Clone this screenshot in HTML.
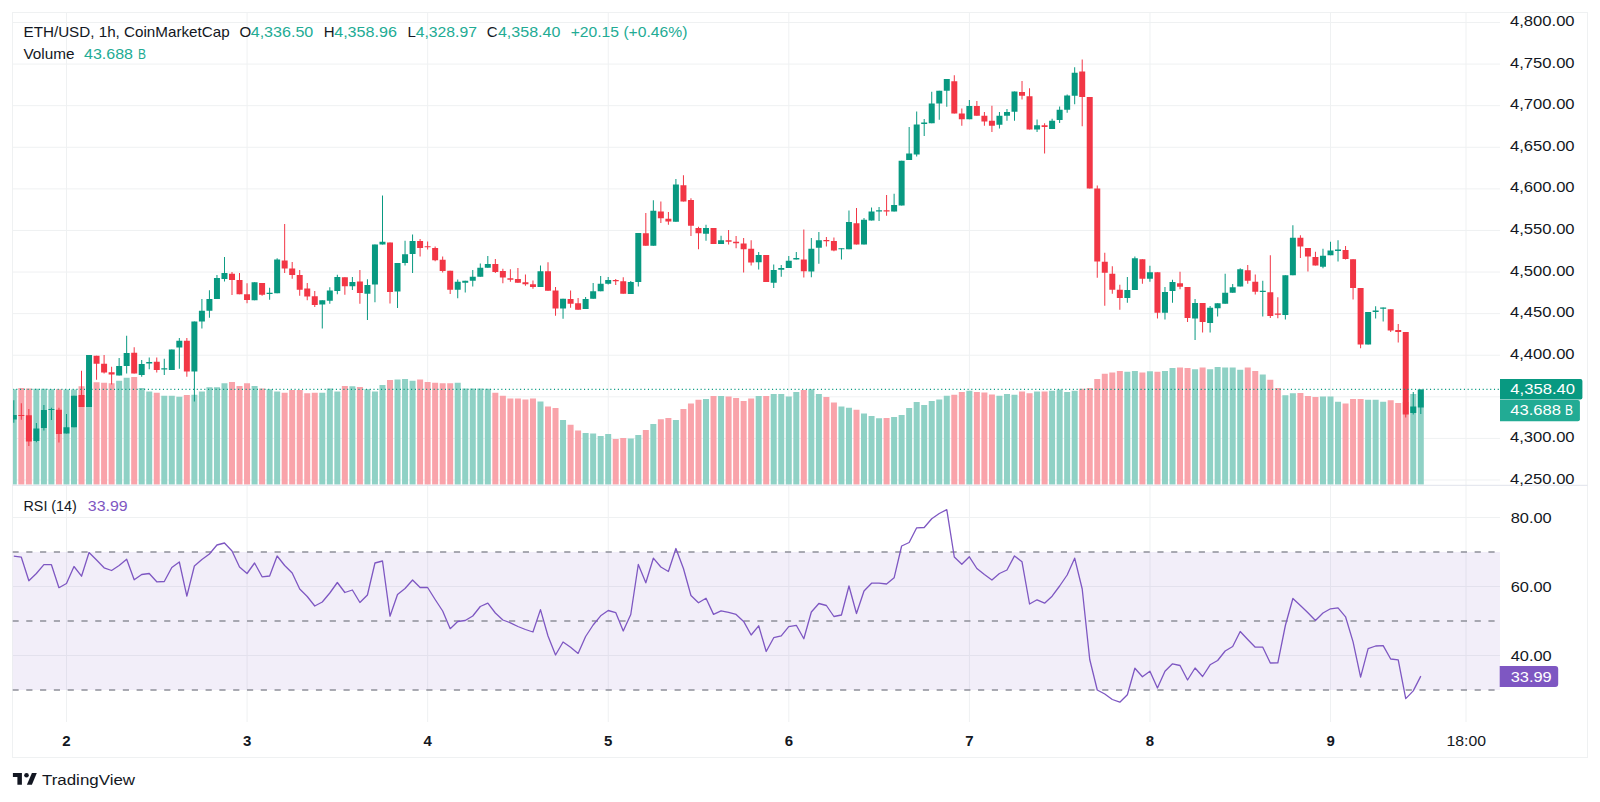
<!DOCTYPE html><html><head><meta charset="utf-8"><style>html,body{margin:0;padding:0;background:#fff;}svg{display:block;}</style></head><body>
<svg width="1600" height="802" viewBox="0 0 1600 802" font-family='"Liberation Sans", sans-serif'>
<rect width="1600" height="802" fill="#ffffff"/>
<defs><clipPath id="cp1"><rect x="12.5" y="12.5" width="1487.5" height="472.5"/></clipPath><clipPath id="cp2"><rect x="12.5" y="485.5" width="1487.5" height="236.5"/></clipPath></defs>
<path d="M12.5 479.99H1500M12.5 438.40H1500M12.5 396.81H1500M12.5 355.22H1500M12.5 313.63H1500M12.5 272.04H1500M12.5 230.45H1500M12.5 188.86H1500M12.5 147.27H1500M12.5 105.68H1500M12.5 64.09H1500M12.5 22.50H1500M12.5 517.50H1500M12.5 586.50H1500M12.5 655.50H1500M66.50 12.5V485M66.50 485.5V722M247.08 12.5V485M247.08 485.5V722M427.66 12.5V485M427.66 485.5V722M608.24 12.5V485M608.24 485.5V722M788.82 12.5V485M788.82 485.5V722M969.40 12.5V485M969.40 485.5V722M1149.98 12.5V485M1149.98 485.5V722M1330.56 12.5V485M1330.56 485.5V722M1466.00 12.5V485M1466.00 485.5V722" stroke="#eff1f2" stroke-width="1" fill="none"/>
<g clip-path="url(#cp1)">
<path d="M10.80 389.20H16.80V484.5H10.80ZM33.37 388.80H39.37V484.5H33.37ZM40.90 388.80H46.90V484.5H40.90ZM48.42 389.20H54.42V484.5H48.42ZM63.47 389.50H69.47V484.5H63.47ZM70.99 389.50H76.99V484.5H70.99ZM86.04 384.00H92.04V484.5H86.04ZM116.14 380.70H122.14V484.5H116.14ZM123.66 377.80H129.66V484.5H123.66ZM138.71 388.00H144.71V484.5H138.71ZM146.23 391.60H152.23V484.5H146.23ZM161.28 395.70H167.28V484.5H161.28ZM168.80 395.80H174.80V484.5H168.80ZM176.33 396.80H182.33V484.5H176.33ZM191.38 394.70H197.38V484.5H191.38ZM198.90 391.60H204.90V484.5H198.90ZM206.42 387.20H212.42V484.5H206.42ZM213.95 387.20H219.95V484.5H213.95ZM221.47 383.20H227.47V484.5H221.47ZM251.57 385.90H257.57V484.5H251.57ZM266.62 389.20H272.62V484.5H266.62ZM274.14 391.60H280.14V484.5H274.14ZM319.28 392.70H325.28V484.5H319.28ZM326.81 388.40H332.81V484.5H326.81ZM334.33 391.60H340.33V484.5H334.33ZM349.38 386.30H355.38V484.5H349.38ZM364.43 389.20H370.43V484.5H364.43ZM371.95 391.60H377.95V484.5H371.95ZM379.48 385.10H385.48V484.5H379.48ZM394.52 379.40H400.52V484.5H394.52ZM402.05 379.10H408.05V484.5H402.05ZM409.57 380.70H415.57V484.5H409.57ZM454.72 382.70H460.72V484.5H454.72ZM462.24 388.40H468.24V484.5H462.24ZM469.76 388.40H475.76V484.5H469.76ZM477.29 388.40H483.29V484.5H477.29ZM484.81 388.80H490.81V484.5H484.81ZM537.48 401.50H543.48V484.5H537.48ZM560.05 420.00H566.05V484.5H560.05ZM582.62 432.90H588.62V484.5H582.62ZM590.15 433.40H596.15V484.5H590.15ZM597.67 436.00H603.67V484.5H597.67ZM605.20 434.10H611.20V484.5H605.20ZM627.77 438.60H633.77V484.5H627.77ZM635.29 434.90H641.29V484.5H635.29ZM650.34 424.00H656.34V484.5H650.34ZM672.91 420.00H678.91V484.5H672.91ZM703.01 398.90H709.01V484.5H703.01ZM718.06 396.00H724.06V484.5H718.06ZM755.68 396.00H761.68V484.5H755.68ZM770.72 394.00H776.72V484.5H770.72ZM778.25 394.00H784.25V484.5H778.25ZM785.77 396.50H791.77V484.5H785.77ZM793.30 392.10H799.30V484.5H793.30ZM808.34 389.20H814.34V484.5H808.34ZM815.87 394.00H821.87V484.5H815.87ZM838.44 406.50H844.44V484.5H838.44ZM845.96 407.80H851.96V484.5H845.96ZM861.01 413.50H867.01V484.5H861.01ZM868.54 415.90H874.54V484.5H868.54ZM876.06 418.30H882.06V484.5H876.06ZM891.11 417.00H897.11V484.5H891.11ZM898.63 415.10H904.63V484.5H898.63ZM906.16 408.10H912.16V484.5H906.16ZM913.68 402.10H919.68V484.5H913.68ZM921.20 404.90H927.20V484.5H921.20ZM928.73 401.00H934.73V484.5H928.73ZM936.25 399.40H942.25V484.5H936.25ZM943.78 395.70H949.78V484.5H943.78ZM966.35 390.80H972.35V484.5H966.35ZM996.44 395.80H1002.44V484.5H996.44ZM1003.97 394.00H1009.97V484.5H1003.97ZM1011.49 394.80H1017.49V484.5H1011.49ZM1034.06 391.60H1040.06V484.5H1034.06ZM1049.11 390.80H1055.11V484.5H1049.11ZM1056.64 389.50H1062.64V484.5H1056.64ZM1064.16 392.10H1070.16V484.5H1064.16ZM1071.68 390.80H1077.68V484.5H1071.68ZM1124.35 371.80H1130.35V484.5H1124.35ZM1131.88 370.90H1137.88V484.5H1131.88ZM1146.92 371.30H1152.92V484.5H1146.92ZM1161.97 370.90H1167.97V484.5H1161.97ZM1169.50 368.10H1175.50V484.5H1169.50ZM1192.07 369.20H1198.07V484.5H1192.07ZM1207.12 369.20H1213.12V484.5H1207.12ZM1214.64 367.00H1220.64V484.5H1214.64ZM1222.16 367.60H1228.16V484.5H1222.16ZM1229.69 367.60H1235.69V484.5H1229.69ZM1237.21 369.70H1243.21V484.5H1237.21ZM1259.78 374.60H1265.78V484.5H1259.78ZM1282.36 395.20H1288.36V484.5H1282.36ZM1289.88 393.20H1295.88V484.5H1289.88ZM1319.98 396.50H1325.98V484.5H1319.98ZM1327.50 396.50H1333.50V484.5H1327.50ZM1335.02 401.70H1341.02V484.5H1335.02ZM1365.12 399.70H1371.12V484.5H1365.12ZM1372.64 399.70H1378.64V484.5H1372.64ZM1380.17 401.70H1386.17V484.5H1380.17ZM1410.26 394.10H1416.26V484.5H1410.26ZM1417.79 390.00H1423.79V484.5H1417.79Z" fill="#8fd1c5"/>
<path d="M18.32 388.00H24.32V484.5H18.32ZM25.85 388.40H31.85V484.5H25.85ZM55.94 389.20H61.94V484.5H55.94ZM78.52 386.30H84.52V484.5H78.52ZM93.56 382.20H99.56V484.5H93.56ZM101.09 382.70H107.09V484.5H101.09ZM108.61 383.20H114.61V484.5H108.61ZM131.18 377.00H137.18V484.5H131.18ZM153.76 392.70H159.76V484.5H153.76ZM183.85 395.00H189.85V484.5H183.85ZM229.00 382.00H235.00V484.5H229.00ZM236.52 385.90H242.52V484.5H236.52ZM244.04 383.20H250.04V484.5H244.04ZM259.09 388.40H265.09V484.5H259.09ZM281.66 392.70H287.66V484.5H281.66ZM289.19 390.00H295.19V484.5H289.19ZM296.71 390.00H302.71V484.5H296.71ZM304.24 393.20H310.24V484.5H304.24ZM311.76 392.70H317.76V484.5H311.76ZM341.86 385.90H347.86V484.5H341.86ZM356.90 387.10H362.90V484.5H356.90ZM387.00 379.90H393.00V484.5H387.00ZM417.10 379.40H423.10V484.5H417.10ZM424.62 381.90H430.62V484.5H424.62ZM432.14 382.70H438.14V484.5H432.14ZM439.67 383.20H445.67V484.5H439.67ZM447.19 383.20H453.19V484.5H447.19ZM492.34 392.70H498.34V484.5H492.34ZM499.86 395.70H505.86V484.5H499.86ZM507.38 398.40H513.38V484.5H507.38ZM514.91 398.40H520.91V484.5H514.91ZM522.43 399.40H528.43V484.5H522.43ZM529.96 398.40H535.96V484.5H529.96ZM545.00 406.50H551.00V484.5H545.00ZM552.53 408.10H558.53V484.5H552.53ZM567.58 424.80H573.58V484.5H567.58ZM575.10 430.50H581.10V484.5H575.10ZM612.72 439.10H618.72V484.5H612.72ZM620.24 438.10H626.24V484.5H620.24ZM642.82 430.00H648.82V484.5H642.82ZM657.86 419.20H663.86V484.5H657.86ZM665.39 417.90H671.39V484.5H665.39ZM680.44 408.90H686.44V484.5H680.44ZM687.96 403.40H693.96V484.5H687.96ZM695.48 399.70H701.48V484.5H695.48ZM710.53 396.00H716.53V484.5H710.53ZM725.58 396.50H731.58V484.5H725.58ZM733.10 398.10H739.10V484.5H733.10ZM740.63 401.00H746.63V484.5H740.63ZM748.15 398.60H754.15V484.5H748.15ZM763.20 396.00H769.20V484.5H763.20ZM800.82 390.00H806.82V484.5H800.82ZM823.39 397.00H829.39V484.5H823.39ZM830.92 402.60H836.92V484.5H830.92ZM853.49 409.80H859.49V484.5H853.49ZM883.58 417.90H889.58V484.5H883.58ZM951.30 394.80H957.30V484.5H951.30ZM958.82 391.90H964.82V484.5H958.82ZM973.87 391.90H979.87V484.5H973.87ZM981.40 392.40H987.40V484.5H981.40ZM988.92 394.40H994.92V484.5H988.92ZM1019.02 391.60H1025.02V484.5H1019.02ZM1026.54 393.20H1032.54V484.5H1026.54ZM1041.59 391.60H1047.59V484.5H1041.59ZM1079.21 388.80H1085.21V484.5H1079.21ZM1086.73 387.90H1092.73V484.5H1086.73ZM1094.26 379.00H1100.26V484.5H1094.26ZM1101.78 373.80H1107.78V484.5H1101.78ZM1109.30 372.60H1115.30V484.5H1109.30ZM1116.83 370.90H1122.83V484.5H1116.83ZM1139.40 372.60H1145.40V484.5H1139.40ZM1154.45 371.80H1160.45V484.5H1154.45ZM1177.02 367.60H1183.02V484.5H1177.02ZM1184.54 368.10H1190.54V484.5H1184.54ZM1199.59 367.60H1205.59V484.5H1199.59ZM1244.74 367.60H1250.74V484.5H1244.74ZM1252.26 370.90H1258.26V484.5H1252.26ZM1267.31 379.80H1273.31V484.5H1267.31ZM1274.83 388.00H1280.83V484.5H1274.83ZM1297.40 392.90H1303.40V484.5H1297.40ZM1304.93 396.00H1310.93V484.5H1304.93ZM1312.45 397.00H1318.45V484.5H1312.45ZM1342.55 403.40H1348.55V484.5H1342.55ZM1350.07 398.90H1356.07V484.5H1350.07ZM1357.60 398.90H1363.60V484.5H1357.60ZM1387.69 400.20H1393.69V484.5H1387.69ZM1395.22 402.90H1401.22V484.5H1395.22ZM1402.74 402.00H1408.74V484.5H1402.74Z" fill="#f9a3aa"/>
<path d="M13.30 400.30H14.30V422.80H13.30ZM35.87 423.00H36.87V442.20H35.87ZM43.40 405.00H44.40V430.60H43.40ZM50.92 407.80H51.92V420.00H50.92ZM65.97 414.00H66.97V433.50H65.97ZM73.49 395.80H74.49V427.30H73.49ZM88.54 355.00H89.54V407.00H88.54ZM118.64 358.00H119.64V375.60H118.64ZM126.16 335.70H127.16V373.40H126.16ZM141.21 359.90H142.21V376.70H141.21ZM148.73 357.50H149.73V369.30H148.73ZM163.78 358.80H164.78V374.90H163.78ZM171.30 349.60H172.30V370.00H171.30ZM178.83 337.90H179.83V368.70H178.83ZM193.88 321.60H194.88V401.50H193.88ZM201.40 299.00H202.40V328.50H201.40ZM208.92 290.20H209.92V317.70H208.92ZM216.45 274.90H217.45V299.00H216.45ZM223.97 257.10H224.97V281.40H223.97ZM254.07 282.20H255.07V300.30H254.07ZM269.12 287.80H270.12V299.80H269.12ZM276.64 258.30H277.64V293.20H276.64ZM321.78 300.30H322.78V328.40H321.78ZM329.31 287.20H330.31V303.70H329.31ZM336.83 274.70H337.83V294.20H336.83ZM351.88 277.00H352.88V290.00H351.88ZM366.93 279.20H367.93V320.00H366.93ZM374.45 244.60H375.45V302.20H374.45ZM381.98 195.60H382.98V244.60H381.98ZM397.02 263.00H398.02V308.10H397.02ZM404.55 240.80H405.55V265.50H404.55ZM412.07 234.60H413.07V272.90H412.07ZM457.22 279.50H458.22V298.20H457.22ZM464.74 280.80H465.74V292.60H464.74ZM472.26 270.10H473.26V286.40H472.26ZM479.79 263.60H480.79V276.70H479.79ZM487.31 256.10H488.31V267.70H487.31ZM539.98 265.40H540.98V286.90H539.98ZM562.55 298.80H563.55V318.70H562.55ZM585.12 297.00H586.12V308.90H585.12ZM592.65 283.10H593.65V298.80H592.65ZM600.17 276.00H601.17V291.30H600.17ZM607.70 277.10H608.70V284.60H607.70ZM630.27 281.00H631.27V294.00H630.27ZM637.79 232.90H638.79V286.60H637.79ZM652.84 200.20H653.84V245.80H652.84ZM675.41 179.00H676.41V221.70H675.41ZM705.51 224.80H706.51V240.70H705.51ZM720.56 235.70H721.56V244.10H720.56ZM758.18 252.00H759.18V269.40H758.18ZM773.22 264.50H774.22V288.10H773.22ZM780.75 265.00H781.75V276.70H780.75ZM788.27 256.10H789.27V267.90H788.27ZM795.80 252.00H796.80V259.40H795.80ZM810.84 237.90H811.84V277.20H810.84ZM818.37 232.00H819.37V263.70H818.37ZM840.94 248.20H841.94V259.50H840.94ZM848.46 210.50H849.46V249.30H848.46ZM863.51 218.00H864.51V244.60H863.51ZM871.04 207.40H872.04V220.40H871.04ZM878.56 207.00H879.56V220.90H878.56ZM893.61 193.70H894.61V211.40H893.61ZM901.13 160.70H902.13V205.50H901.13ZM908.66 126.90H909.66V160.00H908.66ZM916.18 111.50H917.18V156.50H916.18ZM923.70 119.00H924.70V135.90H923.70ZM931.23 91.80H932.23V123.30H931.23ZM938.75 90.80H939.75V119.80H938.75ZM946.28 79.00H947.28V106.70H946.28ZM968.85 100.10H969.85V119.20H968.85ZM998.94 112.10H999.94V128.50H998.94ZM1006.47 108.90H1007.47V120.70H1006.47ZM1013.99 91.50H1014.99V120.70H1013.99ZM1036.56 119.60H1037.56V131.90H1036.56ZM1051.61 118.80H1052.61V128.90H1051.61ZM1059.14 106.50H1060.14V122.90H1059.14ZM1066.66 94.50H1067.66V112.70H1066.66ZM1074.18 67.20H1075.18V104.20H1074.18ZM1126.85 277.10H1127.85V302.70H1126.85ZM1134.38 256.40H1135.38V290.10H1134.38ZM1149.42 265.80H1150.42V281.70H1149.42ZM1164.47 287.10H1165.47V319.60H1164.47ZM1172.00 279.70H1173.00V302.70H1172.00ZM1194.57 299.10H1195.57V340.00H1194.57ZM1209.62 306.10H1210.62V332.60H1209.62ZM1217.14 303.30H1218.14V316.60H1217.14ZM1224.66 273.80H1225.66V303.70H1224.66ZM1232.19 284.10H1233.19V292.70H1232.19ZM1239.71 268.30H1240.71V286.60H1239.71ZM1262.28 280.80H1263.28V316.40H1262.28ZM1284.86 275.20H1285.86V319.40H1284.86ZM1292.38 225.30H1293.38V275.20H1292.38ZM1322.48 248.70H1323.48V268.30H1322.48ZM1330.00 241.70H1331.00V255.20H1330.00ZM1337.52 240.20H1338.52V261.40H1337.52ZM1367.62 311.90H1368.62V344.40H1367.62ZM1375.14 306.30H1376.14V318.40H1375.14ZM1382.67 307.50H1383.67V321.40H1382.67ZM1412.76 392.00H1413.76V414.40H1412.76ZM1420.29 389.50H1421.29V414.00H1420.29Z" fill="#089981"/>
<path d="M10.80 415.00H16.80V419.50H10.80ZM33.37 428.50H39.37V441.00H33.37ZM40.90 410.00H46.90V428.00H40.90ZM48.42 408.90H54.42V410.10H48.42ZM63.47 427.30H69.47V433.50H63.47ZM70.99 395.80H76.99V427.30H70.99ZM86.04 355.00H92.04V407.00H86.04ZM116.14 366.00H122.14V375.60H116.14ZM123.66 353.00H129.66V366.00H123.66ZM138.71 364.00H144.71V374.90H138.71ZM146.23 362.10H152.23V363.50H146.23ZM161.28 368.30H167.28V369.60H161.28ZM168.80 349.60H174.80V370.00H168.80ZM176.33 340.70H182.33V347.60H176.33ZM191.38 321.60H197.38V371.60H191.38ZM198.90 310.70H204.90V321.60H198.90ZM206.42 299.00H212.42V310.70H206.42ZM213.95 278.00H219.95V299.00H213.95ZM221.47 273.00H227.47V279.00H221.47ZM251.57 282.20H257.57V300.30H251.57ZM266.62 292.85H272.62V294.05H266.62ZM274.14 259.60H280.14V293.20H274.14ZM319.28 300.30H325.28V304.50H319.28ZM326.81 290.40H332.81V300.70H326.81ZM334.33 277.00H340.33V291.00H334.33ZM349.38 282.00H355.38V286.30H349.38ZM364.43 285.00H370.43V293.80H364.43ZM371.95 244.60H377.95V284.40H371.95ZM379.48 241.80H385.48V244.60H379.48ZM394.52 263.00H400.52V291.60H394.52ZM402.05 254.20H408.05V263.00H402.05ZM409.57 241.10H415.57V253.90H409.57ZM454.72 281.70H460.72V289.80H454.72ZM462.24 280.80H468.24V282.70H462.24ZM469.76 276.70H475.76V280.80H469.76ZM477.29 267.70H483.29V276.70H477.29ZM484.81 264.00H490.81V267.70H484.81ZM537.48 271.20H543.48V286.90H537.48ZM560.05 298.80H566.05V308.50H560.05ZM582.62 299.00H588.62V308.90H582.62ZM590.15 291.20H596.15V298.80H590.15ZM597.67 283.80H603.67V291.30H597.67ZM605.20 280.10H611.20V283.80H605.20ZM627.77 281.90H633.77V294.00H627.77ZM635.29 232.90H641.29V281.90H635.29ZM650.34 210.80H656.34V245.80H650.34ZM672.91 184.60H678.91V221.70H672.91ZM703.01 228.00H709.01V233.80H703.01ZM718.06 240.20H724.06V244.10H718.06ZM755.68 255.10H761.68V262.20H755.68ZM770.72 270.10H776.72V282.80H770.72ZM778.25 267.90H784.25V269.70H778.25ZM785.77 260.80H791.77V267.90H785.77ZM793.30 258.10H799.30V259.40H793.30ZM808.34 248.80H814.34V271.60H808.34ZM815.87 240.20H821.87V247.70H815.87ZM838.44 248.15H844.44V249.35H838.44ZM845.96 222.10H851.96V249.30H845.96ZM861.01 219.70H867.01V244.60H861.01ZM868.54 211.40H874.54V220.40H868.54ZM876.06 210.20H882.06V211.40H876.06ZM891.11 205.00H897.11V211.40H891.11ZM898.63 160.70H904.63V205.50H898.63ZM906.16 153.40H912.16V160.00H906.16ZM913.68 124.50H919.68V154.60H913.68ZM921.20 122.60H927.20V124.00H921.20ZM928.73 103.60H934.73V123.30H928.73ZM936.25 90.80H942.25V103.60H936.25ZM943.78 79.00H949.78V90.80H943.78ZM966.35 106.10H972.35V119.20H966.35ZM996.44 115.80H1002.44V124.80H996.44ZM1003.97 112.10H1009.97V115.80H1003.97ZM1011.49 91.50H1017.49V111.70H1011.49ZM1034.06 125.20H1040.06V129.50H1034.06ZM1049.11 120.70H1055.11V128.90H1049.11ZM1056.64 109.80H1062.64V120.10H1056.64ZM1064.16 95.40H1070.16V109.80H1064.16ZM1071.68 72.80H1077.68V95.80H1071.68ZM1124.35 290.10H1130.35V298.10H1124.35ZM1131.88 258.20H1137.88V290.10H1131.88ZM1146.92 272.20H1152.92V278.70H1146.92ZM1161.97 292.10H1167.97V312.70H1161.97ZM1169.50 282.10H1175.50V291.10H1169.50ZM1192.07 303.10H1198.07V318.60H1192.07ZM1207.12 307.70H1213.12V323.00H1207.12ZM1214.64 303.30H1220.64V308.30H1214.64ZM1222.16 292.70H1228.16V303.70H1222.16ZM1229.69 287.30H1235.69V292.70H1229.69ZM1237.21 269.20H1243.21V286.60H1237.21ZM1259.78 290.70H1265.78V292.10H1259.78ZM1282.36 275.20H1288.36V315.10H1282.36ZM1289.88 237.80H1295.88V275.20H1289.88ZM1319.98 255.80H1325.98V266.80H1319.98ZM1327.50 250.50H1333.50V255.20H1327.50ZM1335.02 249.60H1341.02V250.90H1335.02ZM1365.12 311.90H1371.12V344.40H1365.12ZM1372.64 310.40H1378.64V311.90H1372.64ZM1380.17 307.50H1386.17V308.70H1380.17ZM1410.26 406.60H1416.26V413.00H1410.26ZM1417.79 389.50H1423.79V407.50H1417.79Z" fill="#089981"/>
<path d="M20.82 403.30H21.82V419.80H20.82ZM28.35 409.00H29.35V446.00H28.35ZM58.44 407.80H59.44V442.50H58.44ZM81.02 370.70H82.02V407.00H81.02ZM96.06 355.70H97.06V379.70H96.06ZM103.59 355.00H104.59V373.40H103.59ZM111.11 366.70H112.11V384.60H111.11ZM133.68 347.20H134.68V373.40H133.68ZM156.26 357.50H157.26V372.40H156.26ZM186.35 337.90H187.35V376.70H186.35ZM231.50 272.00H232.50V294.90H231.50ZM239.02 273.00H240.02V294.30H239.02ZM246.54 283.30H247.54V303.30H246.54ZM261.59 283.00H262.59V295.70H261.59ZM284.16 224.00H285.16V272.90H284.16ZM291.69 262.00H292.69V278.80H291.69ZM299.21 270.00H300.21V295.70H299.21ZM306.74 283.00H307.74V300.30H306.74ZM314.26 291.00H315.26V306.90H314.26ZM344.36 277.30H345.36V294.70H344.36ZM359.40 270.00H360.40V303.70H359.40ZM389.50 242.40H390.50V303.50H389.50ZM419.60 238.90H420.60V256.50H419.60ZM427.12 241.50H428.12V249.60H427.12ZM434.64 246.40H435.64V261.30H434.64ZM442.17 256.50H443.17V272.60H442.17ZM449.69 270.70H450.69V293.90H449.69ZM494.84 258.90H495.84V272.90H494.84ZM502.36 268.80H503.36V283.20H502.36ZM509.88 269.20H510.88V281.70H509.88ZM517.41 267.90H518.41V282.70H517.41ZM524.93 274.40H525.93V285.70H524.93ZM532.46 280.40H533.46V288.80H532.46ZM547.50 262.30H548.50V290.70H547.50ZM555.03 287.10H556.03V315.80H555.03ZM570.08 290.60H571.08V307.80H570.08ZM577.60 298.00H578.60V309.70H577.60ZM615.22 279.10H616.22V285.00H615.22ZM622.74 277.20H623.74V293.70H622.74ZM645.32 213.00H646.32V245.80H645.32ZM660.36 201.50H661.36V223.00H660.36ZM667.89 212.10H668.89V224.80H667.89ZM682.94 175.30H683.94V201.50H682.94ZM690.46 198.30H691.46V236.00H690.46ZM697.98 226.70H698.98V249.20H697.98ZM713.03 228.00H714.03V243.90H713.03ZM728.08 229.90H729.08V244.50H728.08ZM735.60 236.10H736.60V248.20H735.60ZM743.13 237.90H744.13V272.50H743.13ZM750.65 240.20H751.65V265.60H750.65ZM765.70 255.10H766.70V281.90H765.70ZM803.32 229.50H804.32V277.60H803.32ZM825.89 237.00H826.89V246.50H825.89ZM833.42 237.50H834.42V251.20H833.42ZM855.99 208.10H856.99V244.60H855.99ZM886.08 194.90H887.08V215.70H886.08ZM953.80 75.20H954.80V113.60H953.80ZM961.32 108.40H962.32V125.70H961.32ZM976.37 100.90H977.37V115.80H976.37ZM983.90 112.10H984.90V125.70H983.90ZM991.42 105.70H992.42V131.90H991.42ZM1021.52 80.90H1022.52V99.60H1021.52ZM1029.04 88.30H1030.04V129.50H1029.04ZM1044.09 123.30H1045.09V153.40H1044.09ZM1081.71 59.40H1082.71V126.30H1081.71ZM1089.23 97.10H1090.23V188.40H1089.23ZM1096.76 185.60H1097.76V277.70H1096.76ZM1104.28 252.80H1105.28V305.70H1104.28ZM1111.80 266.20H1112.80V293.70H1111.80ZM1119.33 284.70H1120.33V309.70H1119.33ZM1141.90 259.20H1142.90V283.70H1141.90ZM1156.95 272.20H1157.95V318.60H1156.95ZM1179.52 271.80H1180.52V289.30H1179.52ZM1187.04 287.10H1188.04V322.00H1187.04ZM1202.09 303.10H1203.09V332.60H1202.09ZM1247.24 265.10H1248.24V283.80H1247.24ZM1254.76 274.50H1255.76V294.50H1254.76ZM1269.81 255.20H1270.81V317.90H1269.81ZM1277.33 297.30H1278.33V318.20H1277.33ZM1299.90 235.20H1300.90V258.00H1299.90ZM1307.43 248.10H1308.43V271.50H1307.43ZM1314.95 251.80H1315.95V265.50H1314.95ZM1345.05 245.90H1346.05V259.50H1345.05ZM1352.57 259.30H1353.57V299.50H1352.57ZM1360.10 287.90H1361.10V348.20H1360.10ZM1390.19 309.20H1391.19V331.90H1390.19ZM1397.72 324.00H1398.72V342.40H1397.72ZM1405.24 331.90H1406.24V417.40H1405.24Z" fill="#f23645"/>
<path d="M18.32 414.90H24.32V416.10H18.32ZM25.85 415.30H31.85V441.50H25.85ZM55.94 409.80H61.94V434.00H55.94ZM78.52 395.00H84.52V407.00H78.52ZM93.56 355.70H99.56V363.70H93.56ZM101.09 363.70H107.09V372.60H101.09ZM108.61 372.30H114.61V374.40H108.61ZM131.18 352.80H137.18V373.40H131.18ZM153.76 361.80H159.76V370.00H153.76ZM183.85 340.70H189.85V371.50H183.85ZM229.00 273.70H235.00V279.90H229.00ZM236.52 279.90H242.52V294.30H236.52ZM244.04 294.30H250.04V300.00H244.04ZM259.09 283.00H265.09V294.70H259.09ZM281.66 260.50H287.66V268.50H281.66ZM289.19 268.50H295.19V275.10H289.19ZM296.71 275.10H302.71V289.70H296.71ZM304.24 288.60H310.24V296.60H304.24ZM311.76 296.20H317.76V305.00H311.76ZM341.86 277.30H347.86V286.30H341.86ZM356.90 281.60H362.90V292.90H356.90ZM387.00 242.40H393.00V292.00H387.00ZM417.10 241.10H423.10V248.10H417.10ZM424.62 246.15H430.62V247.35H424.62ZM432.14 248.10H438.14V260.20H432.14ZM439.67 259.80H445.67V271.10H439.67ZM447.19 270.70H453.19V289.80H447.19ZM492.34 264.00H498.34V272.00H492.34ZM499.86 271.10H505.86V277.60H499.86ZM507.38 278.20H513.38V279.70H507.38ZM514.91 278.90H520.91V282.70H514.91ZM522.43 282.30H528.43V284.20H522.43ZM529.96 284.20H535.96V287.00H529.96ZM545.00 271.20H551.00V290.70H545.00ZM552.53 290.60H558.53V308.50H552.53ZM567.58 299.00H573.58V303.70H567.58ZM575.10 303.30H581.10V309.70H575.10ZM612.72 280.05H618.72V281.25H612.72ZM620.24 281.30H626.24V293.70H620.24ZM642.82 233.30H648.82V245.80H642.82ZM657.86 211.40H663.86V218.30H657.86ZM665.39 218.70H671.39V221.50H665.39ZM680.44 185.20H686.44V201.50H680.44ZM687.96 200.00H693.96V225.80H687.96ZM695.48 228.00H701.48V233.30H695.48ZM710.53 228.00H716.53V243.90H710.53ZM725.58 240.20H731.58V241.70H725.58ZM733.10 241.70H739.10V243.20H733.10ZM740.63 243.50H746.63V249.20H740.63ZM748.15 248.80H754.15V262.60H748.15ZM763.20 255.10H769.20V281.90H763.20ZM800.82 259.40H806.82V271.20H800.82ZM823.39 240.10H829.39V241.30H823.39ZM830.92 241.00H836.92V250.50H830.92ZM853.49 223.30H859.49V244.60H853.49ZM883.58 210.20H889.58V211.40H883.58ZM951.30 81.20H957.30V113.60H951.30ZM958.82 113.60H964.82V119.20H958.82ZM973.87 106.10H979.87V115.80H973.87ZM981.40 115.80H987.40V121.40H981.40ZM988.92 120.70H994.92V125.70H988.92ZM1019.02 92.10H1025.02V95.80H1019.02ZM1026.54 96.20H1032.54V129.50H1026.54ZM1041.59 125.20H1047.59V127.00H1041.59ZM1079.21 71.50H1085.21V97.10H1079.21ZM1086.73 97.10H1092.73V188.40H1086.73ZM1094.26 188.40H1100.26V261.40H1094.26ZM1101.78 261.80H1107.78V272.80H1101.78ZM1109.30 273.80H1115.30V289.70H1109.30ZM1116.83 289.70H1122.83V298.10H1116.83ZM1139.40 259.20H1145.40V278.70H1139.40ZM1154.45 272.20H1160.45V312.70H1154.45ZM1177.02 283.30H1183.02V286.70H1177.02ZM1184.54 287.10H1190.54V318.00H1184.54ZM1199.59 303.10H1205.59V322.00H1199.59ZM1244.74 270.20H1250.74V280.80H1244.74ZM1252.26 281.80H1258.26V291.70H1252.26ZM1267.31 292.20H1273.31V316.00H1267.31ZM1274.83 313.45H1280.83V314.65H1274.83ZM1297.40 237.80H1303.40V246.40H1297.40ZM1304.93 248.10H1310.93V256.50H1304.93ZM1312.45 257.10H1318.45V265.50H1312.45ZM1342.55 250.00H1348.55V259.00H1342.55ZM1350.07 259.30H1356.07V287.90H1350.07ZM1357.60 287.90H1363.60V344.40H1357.60ZM1387.69 309.20H1393.69V330.50H1387.69ZM1395.22 330.10H1401.22V331.90H1395.22ZM1402.74 331.90H1408.74V414.40H1402.74Z" fill="#f23645"/>
</g>
<line x1="12.5" y1="389.4" x2="1500" y2="389.4" stroke="#089981" stroke-width="1.1" stroke-dasharray="1.1 2.66"/>
<rect x="12.5" y="12.5" width="1575" height="745" fill="none" stroke="#eff1f2" stroke-width="1"/>
<line x1="12.5" y1="485.3" x2="1587.5" y2="485.3" stroke="#e0e3eb" stroke-width="1"/>
<g clip-path="url(#cp2)">
<rect x="12.5" y="552.00" width="1487.5" height="138.00" fill="#7e57c2" fill-opacity="0.1"/>
<line x1="12.46" y1="552.00" x2="1500" y2="552.00" stroke="#8e9099" stroke-width="1.5" stroke-dasharray="6.2 7.594"/>
<line x1="12.46" y1="621.00" x2="1500" y2="621.00" stroke="#8e9099" stroke-width="1.5" stroke-dasharray="6.2 7.594"/>
<line x1="12.46" y1="690.00" x2="1500" y2="690.00" stroke="#8e9099" stroke-width="1.5" stroke-dasharray="6.2 7.594"/>
<polyline points="13.80,556.20 21.32,557.20 28.85,580.80 36.37,573.50 43.90,564.70 51.42,564.70 58.94,587.70 66.47,583.50 73.99,566.50 81.52,576.20 89.04,552.50 96.56,560.00 104.09,567.80 111.61,570.50 119.14,565.50 126.66,559.20 134.18,579.80 141.71,574.50 149.23,573.50 156.76,581.80 164.28,581.50 171.80,567.50 179.33,562.00 186.85,596.20 194.38,566.00 201.90,559.50 209.42,554.00 216.95,545.00 224.47,543.00 232.00,551.00 239.52,567.00 247.04,573.50 254.57,563.00 262.09,576.80 269.62,576.00 277.14,556.00 284.66,565.50 292.19,573.00 299.71,589.00 307.24,596.50 314.76,606.00 322.28,602.00 329.81,593.00 337.33,582.50 344.86,592.50 352.38,590.00 359.90,602.50 367.43,595.00 374.95,563.00 382.48,561.00 390.00,616.20 397.52,594.50 405.05,588.50 412.57,580.00 420.10,587.50 427.62,587.50 435.14,599.50 442.67,611.00 450.19,628.70 457.72,621.50 465.24,620.50 472.76,616.00 480.29,606.50 487.81,603.20 495.34,613.00 502.86,620.00 510.38,622.80 517.91,626.50 525.43,629.50 532.96,632.00 540.48,609.60 548.00,636.00 555.53,655.00 563.05,642.00 570.58,647.30 578.10,653.40 585.62,636.50 593.15,625.00 600.67,615.80 608.20,610.50 615.72,612.60 623.24,631.00 630.77,614.50 638.29,564.50 645.82,582.80 653.34,558.20 660.86,567.00 668.39,571.50 675.91,548.50 683.44,568.50 690.96,595.50 698.48,602.80 706.01,598.30 713.53,614.40 721.06,610.90 728.58,612.30 736.10,614.40 743.63,621.40 751.15,635.00 758.68,625.80 766.20,651.50 773.72,637.70 781.25,635.90 788.77,626.70 796.30,625.30 803.82,638.80 811.34,612.00 818.87,603.50 826.39,605.50 833.92,616.50 841.44,615.00 848.96,586.00 856.49,613.50 864.01,591.00 871.54,583.20 879.06,583.20 886.58,584.00 894.11,577.80 901.63,546.00 909.16,542.50 916.68,527.80 924.20,527.50 931.73,518.80 939.25,513.50 946.78,509.70 954.30,557.00 961.82,564.20 969.35,556.80 976.87,568.50 984.40,574.50 991.92,580.00 999.44,573.50 1006.97,570.00 1014.49,555.90 1022.02,561.80 1029.54,604.00 1037.06,599.80 1044.59,603.20 1052.11,596.20 1059.64,586.00 1067.16,575.00 1074.68,558.20 1082.21,589.00 1089.73,659.50 1097.26,690.00 1104.78,694.00 1112.30,699.50 1119.83,702.20 1127.35,694.80 1134.88,668.20 1142.40,676.80 1149.92,671.20 1157.45,688.00 1164.97,671.20 1172.50,663.80 1180.02,665.50 1187.54,680.00 1195.07,668.00 1202.59,676.50 1210.12,664.80 1217.64,660.50 1225.16,651.00 1232.69,646.50 1240.21,631.50 1247.74,639.50 1255.26,647.20 1262.78,647.20 1270.31,663.00 1277.83,662.80 1285.36,625.50 1292.88,598.50 1300.40,605.50 1307.93,612.80 1315.45,620.50 1322.98,613.00 1330.50,608.80 1338.02,607.80 1345.55,616.80 1353.07,641.90 1360.60,677.20 1368.12,648.60 1375.64,646.00 1383.17,645.60 1390.69,659.00 1398.22,659.80 1405.74,698.60 1413.26,690.90 1420.79,676.10" fill="none" stroke="#7e57c2" stroke-width="1.3" stroke-linejoin="round"/>
</g>
<text x="1510.00" y="483.59" font-size="15" fill="#131722" text-anchor="start" font-weight="normal" textLength="64.6" lengthAdjust="spacingAndGlyphs">4,250.00</text>
<text x="1510.00" y="442.00" font-size="15" fill="#131722" text-anchor="start" font-weight="normal" textLength="64.6" lengthAdjust="spacingAndGlyphs">4,300.00</text>
<text x="1510.00" y="358.82" font-size="15" fill="#131722" text-anchor="start" font-weight="normal" textLength="64.6" lengthAdjust="spacingAndGlyphs">4,400.00</text>
<text x="1510.00" y="317.23" font-size="15" fill="#131722" text-anchor="start" font-weight="normal" textLength="64.6" lengthAdjust="spacingAndGlyphs">4,450.00</text>
<text x="1510.00" y="275.64" font-size="15" fill="#131722" text-anchor="start" font-weight="normal" textLength="64.6" lengthAdjust="spacingAndGlyphs">4,500.00</text>
<text x="1510.00" y="234.05" font-size="15" fill="#131722" text-anchor="start" font-weight="normal" textLength="64.6" lengthAdjust="spacingAndGlyphs">4,550.00</text>
<text x="1510.00" y="192.46" font-size="15" fill="#131722" text-anchor="start" font-weight="normal" textLength="64.6" lengthAdjust="spacingAndGlyphs">4,600.00</text>
<text x="1510.00" y="150.87" font-size="15" fill="#131722" text-anchor="start" font-weight="normal" textLength="64.6" lengthAdjust="spacingAndGlyphs">4,650.00</text>
<text x="1510.00" y="109.28" font-size="15" fill="#131722" text-anchor="start" font-weight="normal" textLength="64.6" lengthAdjust="spacingAndGlyphs">4,700.00</text>
<text x="1510.00" y="67.69" font-size="15" fill="#131722" text-anchor="start" font-weight="normal" textLength="64.6" lengthAdjust="spacingAndGlyphs">4,750.00</text>
<text x="1510.00" y="26.10" font-size="15" fill="#131722" text-anchor="start" font-weight="normal" textLength="64.6" lengthAdjust="spacingAndGlyphs">4,800.00</text>
<text x="1510.70" y="522.60" font-size="15" fill="#131722" text-anchor="start" font-weight="normal" textLength="41.0" lengthAdjust="spacingAndGlyphs">80.00</text>
<text x="1510.70" y="591.60" font-size="15" fill="#131722" text-anchor="start" font-weight="normal" textLength="41.0" lengthAdjust="spacingAndGlyphs">60.00</text>
<text x="1510.70" y="660.60" font-size="15" fill="#131722" text-anchor="start" font-weight="normal" textLength="41.0" lengthAdjust="spacingAndGlyphs">40.00</text>
<path d="M1500 379.1H1580.4a2 2 0 0 1 2 2V397.6a2 2 0 0 1 -2 2H1500Z" fill="#089981"/>
<text x="1510.30" y="394.00" font-size="15" fill="#fff" text-anchor="start" font-weight="normal" textLength="64.7" lengthAdjust="spacingAndGlyphs">4,358.40</text>
<path d="M1500 400H1577.9a2 2 0 0 1 2 2V419.2a2 2 0 0 1 -2 2H1500Z" fill="#22ab94"/>
<text x="1510.30" y="415.40" font-size="15" fill="#fff" text-anchor="start" font-weight="normal" textLength="50.7" lengthAdjust="spacingAndGlyphs">43.688</text>
<text x="1565.00" y="415.40" font-size="15" fill="#fff" text-anchor="start" font-weight="normal" textLength="8.0" lengthAdjust="spacingAndGlyphs">B</text>
<path d="M1499.7 666H1555.2a3 3 0 0 1 3 3V683.9a3 3 0 0 1 -3 3H1499.7Z" fill="#7e57c2"/>
<text x="1510.70" y="681.60" font-size="15" fill="#fff" text-anchor="start" font-weight="normal" textLength="41.0" lengthAdjust="spacingAndGlyphs">33.99</text>
<text x="66.50" y="746.20" font-size="15" fill="#131722" text-anchor="middle" font-weight="bold">2</text>
<text x="247.08" y="746.20" font-size="15" fill="#131722" text-anchor="middle" font-weight="bold">3</text>
<text x="427.66" y="746.20" font-size="15" fill="#131722" text-anchor="middle" font-weight="bold">4</text>
<text x="608.24" y="746.20" font-size="15" fill="#131722" text-anchor="middle" font-weight="bold">5</text>
<text x="788.82" y="746.20" font-size="15" fill="#131722" text-anchor="middle" font-weight="bold">6</text>
<text x="969.40" y="746.20" font-size="15" fill="#131722" text-anchor="middle" font-weight="bold">7</text>
<text x="1149.98" y="746.20" font-size="15" fill="#131722" text-anchor="middle" font-weight="bold">8</text>
<text x="1330.56" y="746.20" font-size="15" fill="#131722" text-anchor="middle" font-weight="bold">9</text>
<text x="1446.50" y="746.20" font-size="15" fill="#131722" text-anchor="start" font-weight="normal" textLength="39.5" lengthAdjust="spacingAndGlyphs">18:00</text>
<text x="23.50" y="37.30" font-size="15" fill="#131722" text-anchor="start" font-weight="normal" textLength="206.2" lengthAdjust="spacingAndGlyphs">ETH/USD, 1h, CoinMarketCap</text>
<text x="239.50" y="37.30" font-size="15" fill="#131722" text-anchor="start" font-weight="normal">O</text>
<text x="250.70" y="37.30" font-size="15" fill="#22ab94" text-anchor="start" font-weight="normal" textLength="62.6" lengthAdjust="spacingAndGlyphs">4,336.50</text>
<text x="323.70" y="37.30" font-size="15" fill="#131722" text-anchor="start" font-weight="normal">H</text>
<text x="334.20" y="37.30" font-size="15" fill="#22ab94" text-anchor="start" font-weight="normal" textLength="62.7" lengthAdjust="spacingAndGlyphs">4,358.96</text>
<text x="407.50" y="37.30" font-size="15" fill="#131722" text-anchor="start" font-weight="normal">L</text>
<text x="415.70" y="37.30" font-size="15" fill="#22ab94" text-anchor="start" font-weight="normal" textLength="61.2" lengthAdjust="spacingAndGlyphs">4,328.97</text>
<text x="486.70" y="37.30" font-size="15" fill="#131722" text-anchor="start" font-weight="normal">C</text>
<text x="497.90" y="37.30" font-size="15" fill="#22ab94" text-anchor="start" font-weight="normal" textLength="62.5" lengthAdjust="spacingAndGlyphs">4,358.40</text>
<text x="570.70" y="37.30" font-size="15" fill="#22ab94" text-anchor="start" font-weight="normal" textLength="116.7" lengthAdjust="spacingAndGlyphs">+20.15 (+0.46%)</text>
<text x="23.50" y="58.70" font-size="15" fill="#131722" text-anchor="start" font-weight="normal" textLength="51.0" lengthAdjust="spacingAndGlyphs">Volume</text>
<text x="84.00" y="58.70" font-size="15" fill="#22ab94" text-anchor="start" font-weight="normal" textLength="49.0" lengthAdjust="spacingAndGlyphs">43.688</text>
<text x="138.00" y="58.70" font-size="15" fill="#22ab94" text-anchor="start" font-weight="normal" textLength="8.0" lengthAdjust="spacingAndGlyphs">B</text>
<text x="23.50" y="511.00" font-size="15" fill="#131722" text-anchor="start" font-weight="normal" textLength="53.3" lengthAdjust="spacingAndGlyphs">RSI (14)</text>
<text x="87.80" y="511.00" font-size="15" fill="#7e57c2" text-anchor="start" font-weight="normal" textLength="39.8" lengthAdjust="spacingAndGlyphs">33.99</text>
<g fill="#131722"><path d="M12.9 772.9H21.9V784.7H17.4V777H12.9Z"/><circle cx="26.5" cy="775.3" r="2.3"/><path d="M31.9 772.9H36.8L31.9 784.7H26.9Z"/></g>
<text x="42.00" y="785.00" font-size="15.5" fill="#131722" text-anchor="start" font-weight="normal" textLength="93.0" lengthAdjust="spacingAndGlyphs">TradingView</text>
</svg></body></html>
